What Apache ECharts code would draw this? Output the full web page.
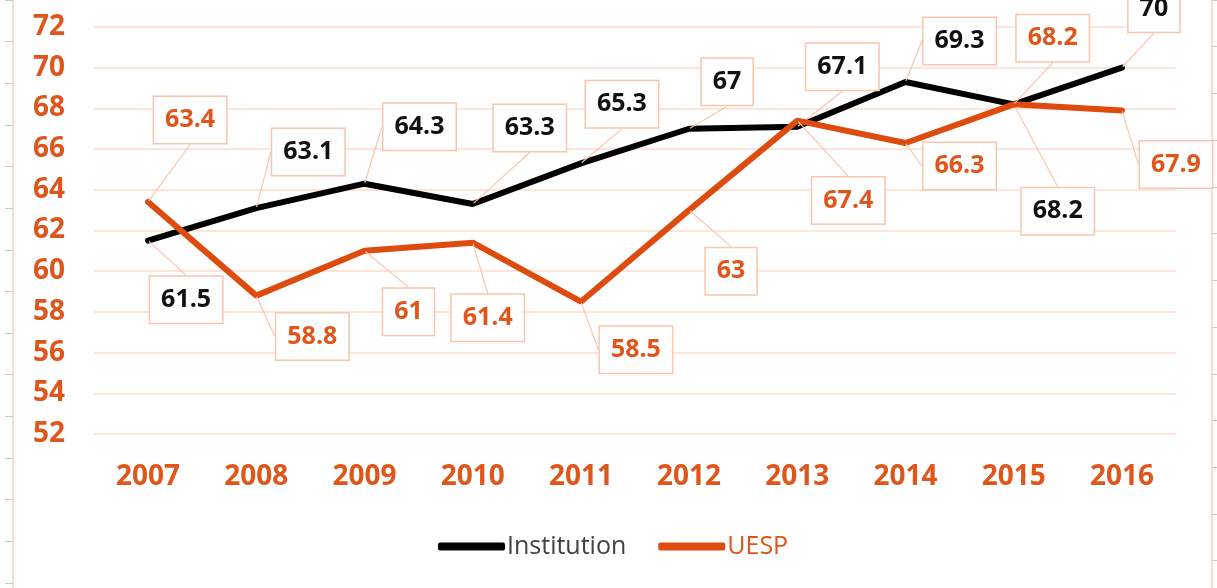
<!DOCTYPE html>
<html>
<head>
<meta charset="utf-8">
<script src="https://cdn.jsdelivr.net/npm/echarts@6/dist/echarts.min.js"></script>
<style>
html,body{margin:0;padding:0;background:#fff;}
#chart{width:1217px;height:588px;}
</style>
</head>
<body>
<div id="chart"></div>
<script>
const years = ['2007','2008','2009','2010','2011','2012','2013','2014','2015','2016'];
const institution = [61.5, 63.1, 64.3, 63.3, 65.3, 67, 67.1, 69.3, 68.2, 70];
const uesp = [63.4, 58.8, 61, 61.4, 58.5, 63, 67.4, 66.3, 68.2, 67.9];
const yTicks = {min: 52, max: 72, interval: 2};

// label callout displacement (pixels) per point
const instLabelShift = [[38,59],[52,-56],[55,-57],[57,-76],[41,-59],[38,-47],[45,-60],[54,-41],[44,107],[32,-59]];
const uespLabelShift = [[42,-82],[56,41],[44,61],[15,75],[55,48],[42,61],[51,80],[54,23],[39,-66],[54,54]];

const ORANGE = '#DE4B0E';
const ORANGE_TXT = '#E0561A';
const PALE = '#F9C6AE';
const GRIDC = '#FCDCCD';
const FONT = '"Open Sans", "Liberation Sans", sans-serif';

const chart = echarts.init(document.getElementById('chart'), null, {renderer: 'canvas'});

function labelCfg(color) {
  return {
    show: true,
    position: 'inside',
    color: color,
    fontFamily: FONT,
    fontWeight: 'bold',
    fontSize: 25,
    lineHeight: 26,
    backgroundColor: '#fff',
    borderColor: PALE,
    borderWidth: 1.5,
    padding: [10, 11]
  };
}

const option = {
  backgroundColor: '#fff',
  animation: false,
  grid: [
    {left: 94, right: 41, top: 27, bottom: 154},
    {left: 13, width: 100, top: -5, bottom: -10},
    {left: 1212, width: 4, top: -6, bottom: -10}
  ],
  legend: {
    left: 433,
    top: 529,
    itemWidth: 67,
    itemHeight: 8,
    itemGap: 32,
    icon: 'roundRect',
    textStyle: {fontFamily: FONT, fontSize: 25, padding: [0, 0, 0, -3]},
    data: [
      {name: 'Institution', textStyle: {color: '#404040'}},
      {name: 'UESP', textStyle: {color: ORANGE_TXT}}
    ]
  },
  xAxis: [
    {
      gridIndex: 0,
      type: 'category',
      data: years,
      boundaryGap: true,
      axisLine: {show: false},
      axisTick: {show: false},
      axisLabel: {color: ORANGE_TXT, fontFamily: FONT, fontWeight: 'bold', fontSize: 28, margin: 29}
    },
    {gridIndex: 1, type: 'value', show: false},
    {gridIndex: 2, type: 'value', show: false}
  ],
  yAxis: [
    {
      gridIndex: 0,
      type: 'value',
      min: yTicks.min,
      max: yTicks.max,
      interval: yTicks.interval,
      axisLine: {show: false},
      axisTick: {show: false},
      axisLabel: {color: ORANGE_TXT, fontFamily: FONT, fontWeight: 'bold', fontSize: 28, margin: 29},
      splitLine: {show: true, lineStyle: {color: GRIDC, width: 1.5}}
    },
    {
      gridIndex: 1,
      type: 'value',
      position: 'left',
      inverse: true,
      min: 0,
      max: 603,
      interval: 42.7,
      axisLine: {show: true, lineStyle: {color: GRIDC, width: 2}},
      axisTick: {show: true, length: 8, lineStyle: {color: '#C8C8C8', width: 1}},
      axisLabel: {show: false},
      splitLine: {show: false}
    },
    {
      gridIndex: 2,
      type: 'value',
      position: 'left',
      inverse: true,
      min: 0,
      max: 604,
      interval: 48,
      axisLine: {show: true, lineStyle: {color: GRIDC, width: 2}},
      axisTick: {show: true, inside: true, length: 5, lineStyle: {color: '#C8C8C8', width: 1}},
      axisLabel: {show: false},
      splitLine: {show: false}
    }
  ],
  series: [
    {
      name: 'Institution',
      type: 'line',
      data: institution,
      color: '#000',
      symbol: 'circle',
      symbolSize: 2,
      lineStyle: {width: 6, color: '#000', cap: 'round'},
      label: labelCfg('#111'),
      labelLine: {show: true, lineStyle: {color: PALE, width: 1.2}},
      labelLayout: function (p) {
        const s = instLabelShift[p.dataIndex];
        return {dx: s[0], dy: s[1]};
      },
      z: 3
    },
    {
      name: 'UESP',
      type: 'line',
      data: uesp,
      color: ORANGE,
      symbol: 'circle',
      symbolSize: 2,
      lineStyle: {width: 6, color: ORANGE, cap: 'round'},
      label: labelCfg(ORANGE_TXT),
      labelLine: {show: true, lineStyle: {color: PALE, width: 1.2}},
      labelLayout: function (p) {
        const s = uespLabelShift[p.dataIndex];
        return {dx: s[0], dy: s[1]};
      },
      z: 4
    }
  ]
};
chart.setOption(option);
</script>
</body>
</html>
